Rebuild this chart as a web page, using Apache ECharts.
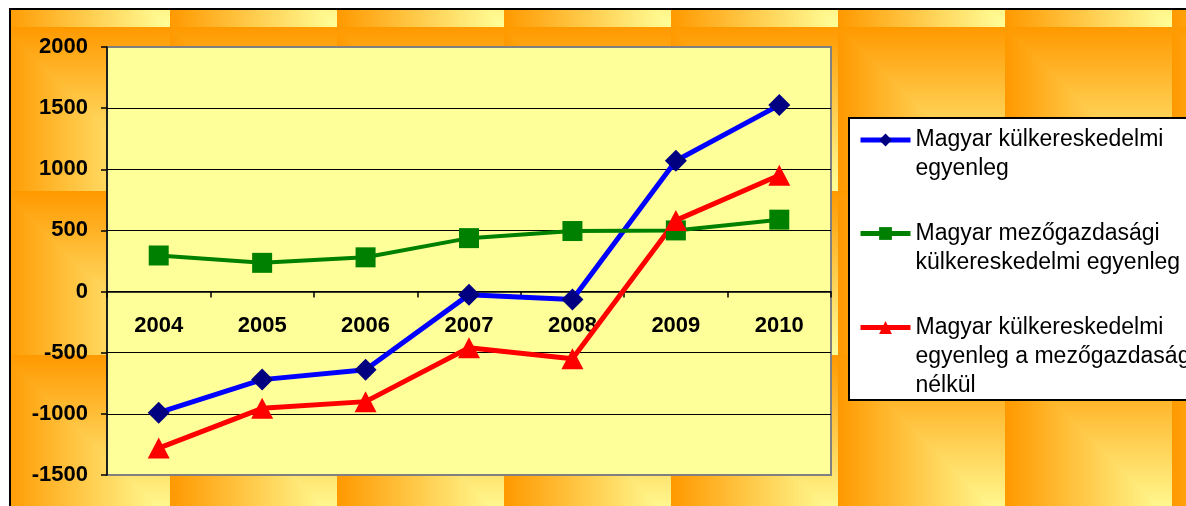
<!DOCTYPE html>
<html>
<head>
<meta charset="utf-8">
<script src="https://cdn.jsdelivr.net/npm/echarts@6/dist/echarts.min.js"></script>
<style>
  html, body { margin: 0; padding: 0; background: #fff; }
  #chart { width: 1186px; height: 506px; }
</style>
</head>
<body>
<div id="chart"></div>
<script>
// ---- data ----
const years = ['2004', '2005', '2006', '2007', '2008', '2009', '2010'];
const seriesNames = [
  'Magyar külkereskedelmi egyenleg',
  'Magyar mezőgazdasági külkereskedelmi egyenleg',
  'Magyar külkereskedelmi egyenleg a mezőgazdaság nélkül'
];
const legendLabels = [
  'Magyar külkereskedelmi\negyenleg',
  'Magyar mezőgazdasági\nkülkereskedelmi egyenleg',
  'Magyar külkereskedelmi\negyenleg a mezőgazdaság\nnélkül'
];
const totalBalance = [-990, -720, -640, -25, -65, 1070, 1525];
const agriBalance = [295, 235, 280, 437, 495, 500, 588];
const nonAgriBalance = [-1280, -955, -900, -460, -550, 582, 951];
const yTicks = { min: -1500, max: 2000, interval: 500 };

// ---- background texture ----
function makeBackground() {
  const W = 1186, H = 506;
  const c = document.createElement('canvas');
  c.width = W; c.height = H;
  const ctx = c.getContext('2d');
  ctx.fillStyle = '#ffffff';
  ctx.fillRect(0, 0, W, H);
  const tw = 167, th = 164;
  const t = document.createElement('canvas');
  t.width = tw; t.height = th;
  const tc = t.getContext('2d');
  const img = tc.createImageData(tw, th);
  const c0 = [255, 153, 0], c1 = [255, 255, 153];
  for (let y = 0; y < th; y++) {
    for (let x = 0; x < tw; x++) {
      const s = Math.max((tw - 1 - x) / (tw - 1), (th - 1 - y) / (th - 1));
      const i = (y * tw + x) * 4;
      img.data[i] = c1[0] + (c0[0] - c1[0]) * s;
      img.data[i + 1] = c1[1] + (c0[1] - c1[1]) * s;
      img.data[i + 2] = c1[2] + (c0[2] - c1[2]) * s;
      img.data[i + 3] = 255;
    }
  }
  tc.putImageData(img, 0, 0);
  ctx.save();
  ctx.beginPath();
  ctx.rect(10, 9, W - 10, H - 9);
  ctx.clip();
  for (let x = 3; x < W; x += tw) {
    for (let y = -137; y < H; y += th) {
      ctx.drawImage(t, x, y);
    }
  }
  ctx.restore();
  ctx.fillStyle = '#000';
  ctx.fillRect(9, 8, W - 9, 2);
  ctx.fillRect(9, 8, 2, H - 8);
  return c.toDataURL();
}
const el = document.getElementById('chart');
el.style.background = 'url(' + makeBackground() + ') no-repeat';

const FONT = "'Liberation Sans', Arial, sans-serif";
const LH = 29;
const seriesColors = ['#0000FF', '#008000', '#FF0000'];

function legendFor(idx, top) {
  const lines = legendLabels[idx].split('\n').length;
  // leading blank lines keep the marker level with the first text line
  const label = '\n'.repeat(lines - 1) + legendLabels[idx];
  return {
    show: true,
    orient: 'vertical',
    left: 858,
    top: top,
    padding: 0,
    itemWidth: 50,
    itemHeight: 16,
    selectedMode: false,
    data: [seriesNames[idx]],
    formatter: function () { return label; },
    lineStyle: { width: 5, color: seriesColors[idx] },
    textStyle: {
      fontFamily: FONT,
      fontSize: 23,
      color: '#000',
      lineHeight: LH
    }
  };
}

const chart = echarts.init(el, null, { renderer: 'canvas' });
chart.setOption({
  backgroundColor: 'transparent',
  animation: false,
  grid: {
    left: 107, right: 355, top: 47, bottom: 31,
    outerBoundsMode: 'none',
    containLabel: false,
    show: true,
    backgroundColor: '#FFFF99',
    borderColor: '#808080',
    borderWidth: 2
  },
  graphic: [{
    type: 'rect',
    shape: { x: 849, y: 118, width: 400, height: 282 },
    style: { fill: '#ffffff', stroke: '#000000', lineWidth: 2 },
    z: 1
  }],
  legend: [
    legendFor(0, 96.5),
    legendFor(1, 190),
    legendFor(2, 255)
  ],
  xAxis: {
    type: 'category',
    data: years,
    boundaryGap: true,
    axisLine: { onZero: true, lineStyle: { color: '#000', width: 1.5 } },
    axisTick: { show: true, length: 6, lineStyle: { color: '#000', width: 1.5 } },
    axisLabel: {
      fontFamily: FONT, fontSize: 22, fontWeight: 'bold', color: '#000', margin: -160
    },
    splitLine: { show: false }
  },
  yAxis: {
    type: 'value',
    min: yTicks.min, max: yTicks.max, interval: yTicks.interval,
    axisLine: { show: true, lineStyle: { color: '#000', width: 1.5 } },
    axisTick: { show: true, length: 6, lineStyle: { color: '#000', width: 1.5 } },
    axisLabel: {
      fontFamily: FONT, fontSize: 22, fontWeight: 'bold', color: '#000', margin: 19,
      formatter: function (v) { return String(v); }
    },
    splitLine: { show: true, showMinLine: false, showMaxLine: false, lineStyle: { color: '#000', width: 1.2 } }
  },
  series: [
    {
      name: seriesNames[0], type: 'line', data: totalBalance,
      symbol: 'diamond', symbolSize: 22,
      lineStyle: { color: '#0000FF', width: 5 },
      itemStyle: { color: '#000080' }
    },
    {
      name: seriesNames[1], type: 'line', data: agriBalance,
      symbol: 'rect', symbolSize: 20,
      lineStyle: { color: '#008000', width: 4 },
      itemStyle: { color: '#008000' }
    },
    {
      name: seriesNames[2], type: 'line', data: nonAgriBalance,
      symbol: 'triangle', symbolSize: [22, 21],
      lineStyle: { color: '#FF0000', width: 5 },
      itemStyle: { color: '#FF0000' }
    }
  ]
});
</script>
</body>
</html>
